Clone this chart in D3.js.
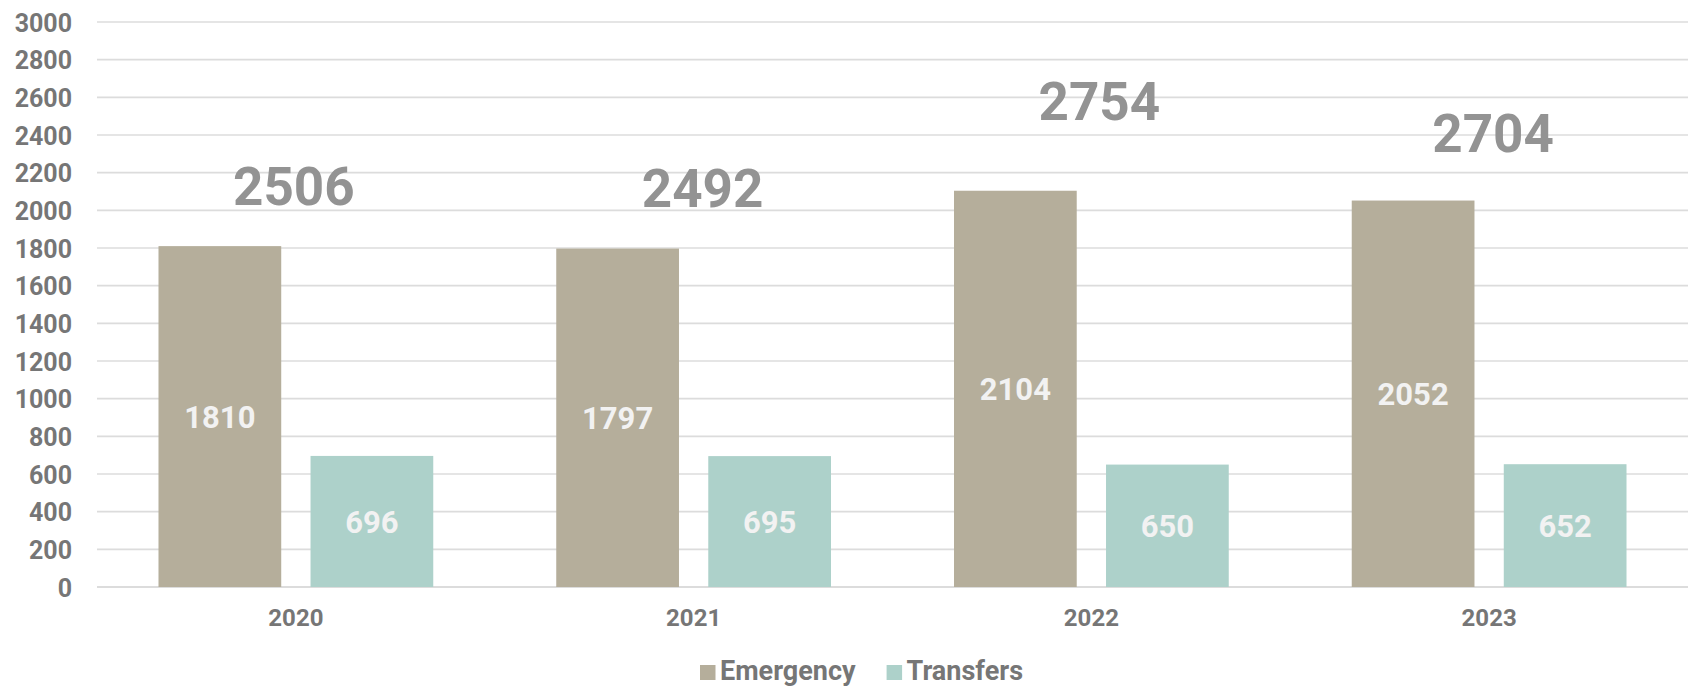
<!DOCTYPE html>
<html>
<head>
<meta charset="utf-8">
<script src="https://cdn.jsdelivr.net/npm/d3@7"></script>
<style>
  html, body { margin: 0; padding: 0; background: #ffffff; }
  svg { display: block; font-family: Roboto, "Noto Sans", sans-serif; font-weight: 700; }
</style>
</head>
<body>
<svg id="chart" width="1690" height="688"></svg>
<script>
// ---- data ----
const categories = ["2020", "2021", "2022", "2023"];
const seriesNames = ["Emergency", "Transfers"];
const emergency = [1810, 1797, 2104, 2052];
const transfers = [696, 695, 650, 652];
const totals = [2506, 2492, 2754, 2704];
const yTicks = [0, 200, 400, 600, 800, 1000, 1200, 1400, 1600, 1800, 2000, 2200, 2400, 2600, 2800, 3000];

// ---- layout (not data) ----
const W = 1690, H = 688;
const margin = { left: 97, right: 2, top: 22, bottom: 101 };
const colors = { Emergency: "#b5ae9b", Transfers: "#add1ca" };
// where the hand-placed total labels sit (baseline level in axis units, x nudge in px)
const totalLabelLevel = [2030, 2020, 2482, 2310];
const totalLabelNudge = [-2, 9, 8, 4];

const svg = d3.select("#chart");
const x0 = d3.scaleBand().domain(categories).range([margin.left, W - margin.right]).paddingInner(0).paddingOuter(0);
const x1 = d3.scaleBand().domain(seriesNames).range([0, x0.bandwidth()]).paddingInner(0.1927).paddingOuter(0.4045);
const y = d3.scaleLinear().domain([0, 3000]).range([H - margin.bottom, margin.top]);

// gridlines
svg.append("g").selectAll("line").data(yTicks).join("line")
  .attr("x1", margin.left).attr("x2", W - margin.right)
  .attr("y1", d => y(d)).attr("y2", d => y(d))
  .attr("stroke", "#dcdcdc").attr("stroke-width", d => d === 0 ? 2.2 : 1.6);

// y axis labels
const yAxis = d3.axisLeft(y).tickValues(yTicks).tickFormat(d3.format("d")).tickSize(0).tickPadding(0);
const gy = svg.append("g").attr("transform", `translate(${margin.left - 25},0)`).call(yAxis);
gy.select(".domain").remove();
gy.selectAll("text").attr("fill", "#767676").attr("font-size", 25).attr("font-weight", 700)
  .attr("font-family", "Roboto").attr("dy", "0.36em");

// x axis labels
const xAxis = d3.axisBottom(x0).tickSize(0).tickPadding(0);
const gx = svg.append("g").attr("transform", `translate(0,${y(0) + 39})`).call(xAxis);
gx.select(".domain").remove();
gx.selectAll("text").attr("fill", "#767676").attr("font-size", 24).attr("font-weight", 700)
  .attr("font-family", "Roboto").attr("dy", 0);

// bars
const rows = categories.map((c, i) => ({ cat: c, i, vals: [
  { s: "Emergency", v: emergency[i] }, { s: "Transfers", v: transfers[i] } ] }));
const groups = svg.append("g").selectAll("g").data(rows).join("g")
  .attr("transform", d => `translate(${x0(d.cat)},0)`);
groups.selectAll("rect").data(d => d.vals).join("rect")
  .attr("x", d => x1(d.s)).attr("width", x1.bandwidth())
  .attr("y", d => y(d.v)).attr("height", d => y(0) - y(d.v))
  .attr("fill", d => colors[d.s]);
groups.selectAll("text.val").data(d => d.vals).join("text").attr("class", "val")
  .attr("x", d => x1(d.s) + x1.bandwidth() / 2)
  .attr("y", d => (y(d.v) + y(0)) / 2)
  .attr("dy", "0.36em")
  .attr("text-anchor", "middle").attr("fill", "#f2f2f2").attr("font-size", 31)
  .text(d => d.v);

// totals
svg.append("g").selectAll("text").data(totals).join("text")
  .attr("x", (d, i) => x0(categories[i]) + x0.bandwidth() / 2 + totalLabelNudge[i])
  .attr("y", (d, i) => y(totalLabelLevel[i]))
  .attr("text-anchor", "middle").attr("fill", "#939393").attr("font-size", 53)
  .text(d => d);

// legend
const legend = svg.append("g").attr("transform", "translate(700,680)");
let lx = 0;
seriesNames.forEach(s => {
  const g = legend.append("g").attr("transform", `translate(${lx},0)`);
  g.append("rect").attr("x", 0).attr("y", -15).attr("width", 15.5).attr("height", 15).attr("fill", colors[s]);
  const t = g.append("text").attr("x", 20).attr("y", 0).attr("fill", "#767676").attr("font-size", 27).text(s);
  lx += 20 + t.node().getComputedTextLength() + 31;
});
</script>
</body>
</html>
